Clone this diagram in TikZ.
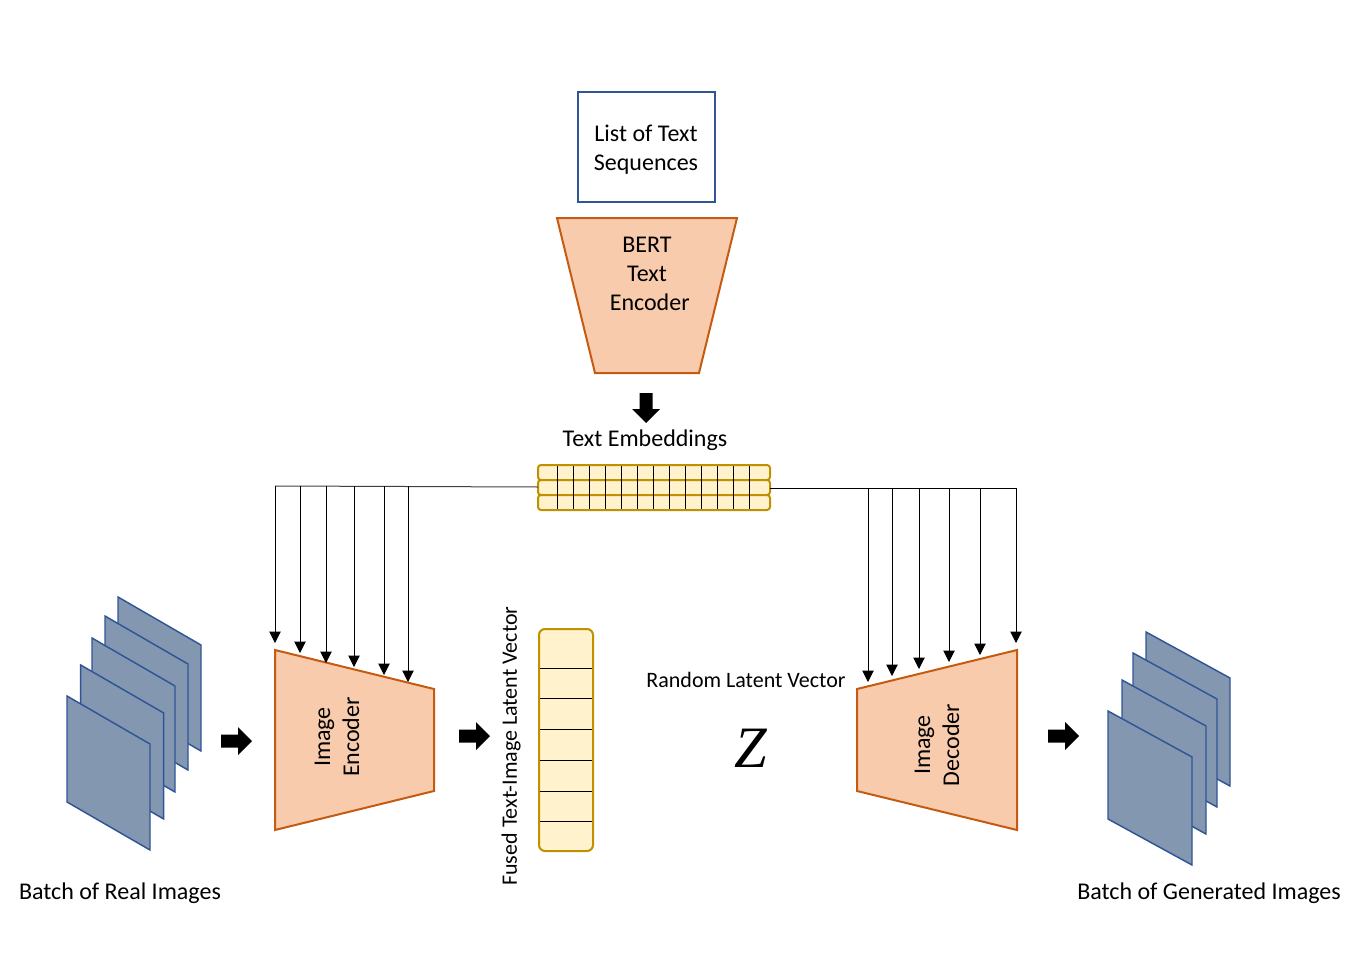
\documentclass[tikz,border=0pt]{standalone}
\usepackage{fontspec}
\setmainfont{Carlito}
\newfontfamily\zfont{Liberation Serif}
\usetikzlibrary{arrows.meta}
\definecolor{orfill}{HTML}{F8CBAD}
\definecolor{ordraw}{HTML}{C55A11}
\definecolor{pgfill}{HTML}{8497B0}
\definecolor{pgdraw}{HTML}{2F5597}
\definecolor{yfill}{HTML}{FFF2CC}
\definecolor{ydraw}{HTML}{BF9000}
\tikzset{
  lbl/.style={font=\fontsize{18}{21.75}\selectfont, inner sep=0pt, align=center},
  slbl/.style={font=\fontsize{16.5}{20}\selectfont, inner sep=0pt, align=center},
  trap/.style={fill=orfill, draw=ordraw, line width=1.5pt, line join=miter},
  pagebox/.style={fill=pgfill, draw=pgdraw, line width=1.1pt, line join=miter},
  embrow/.style={fill=yfill, draw=ydraw, line width=1.5pt, rounded corners=2.2pt},
  cell/.style={black, line width=0.6pt},
  feed/.style={black, line width=0.75pt, -{Triangle[length=8.5pt,width=8.5pt]}},
  rail/.style={black!75, line width=0.75pt},
  rarrow/.pic={\fill[black] (0,-6.5) -- (17,-6.5) -- (17,-14) -- (31,0) -- (17,14) -- (17,6.5) -- (0,6.5) -- cycle;},
  darrow/.pic={\fill[black] (-6.5,0) -- (-6.5,16) -- (-14,16) -- (0,30) -- (14,16) -- (6.5,16) -- (6.5,0) -- cycle;}
}
\begin{document}
\begin{tikzpicture}[x=0.75pt,y=-0.75pt]
\useasboundingbox (0,0) rectangle (1361,960);

% top box
\node[draw=pgdraw, line width=1.5pt, minimum width=102.75pt, minimum height=82.5pt] (list) at (646.5,147) {};
\node[lbl] (listtxt) at (646,149.5) {List of Text\\Sequences};

% BERT trapezoid
\draw[trap] (557,218) -- (737,218) -- (699,373) -- (595,373) -- cycle;
\node[lbl] (bert) at (647,274) {BERT\\Text\\\ Encoder};

% down arrow
\pic at (646,393) {darrow};
\node[lbl] (temb) at (645,440) {Text Embeddings};

% embeddings
\foreach \ya/\yb [count=\r] in {465/480,480/495,495/510}{
  \draw[embrow] (538,\ya) rectangle (770,\yb);
}
\foreach \xx in {557,573,...,749}{
  \draw[cell] (\xx,466) -- (\xx,509);
}
\coordinate (embL) at (538,487);
\coordinate (embR) at (770,488);

% encoder
\draw[trap] (275,650) -- (434,689) -- (434,791) -- (275,830) -- cycle;
\node[lbl, rotate=90] (enc) at (337,737) {Image\\Encoder};

% decoder
\draw[trap] (857,689) -- (1017,650) -- (1017,830) -- (857,791) -- cycle;
\node[lbl, rotate=90] (dec) at (937,745) {Image\\Decoder};

% rails
\coordinate (encrail) at (275,486);
\draw[rail] (embL) -- (encrail);
\coordinate (decrail) at (1016,488);
\draw[black, line width=0.75pt] (embR) -- (decrail);

% encoder feed arrows
\foreach \xx/\ye [count=\i] in {275/643,300/653,326/663,354/667,384/675,408/682}{
  \coordinate (es\i) at (\xx,486);
  \coordinate (ee\i) at (\xx,\ye);
  \draw[feed] (es\i) -- (ee\i);
}
% decoder feed arrows
\foreach \xx/\ye [count=\i] in {868/682,892/676,919/669,949/662,980/655,1016/643}{
  \coordinate (ds\i) at (\xx,488);
  \coordinate (de\i) at (\xx,\ye);
  \draw[feed] (ds\i) -- (de\i);
}

% left stack
\foreach \px/\py in {118/597,105/616,92/638,80.7/665,67/696}{
  \draw[pagebox] (\px,\py) -- ++(83,48) -- ++(0,106) -- ++(-83,-48) -- cycle;
}
\node[lbl] (real) at (120,893) {Batch of Real Images};

% right stack
\foreach \px/\py in {1146/632,1133/653,1122/680,1108/711}{
  \draw[pagebox] (\px,\py) -- ++(84,46) -- ++(0,108) -- ++(-84,-46) -- cycle;
}
\node[lbl] (gen) at (1209,893) {Batch of Generated Images};

% block arrows
\pic at (221,741) {rarrow};
\pic at (459,736) {rarrow};
\pic at (1048,736) {rarrow};

% latent vector
\draw[fill=yfill, draw=ydraw, line width=1.5pt, rounded corners=4.5pt] (539,629) rectangle (593,851);
\foreach \yy in {668,698,729,760,791,821}{
  \draw[cell] (540,\yy) -- (592,\yy);
}
\node[slbl, rotate=90] (fused) at (511,746) {Fused Text-Image Latent Vector};

% random latent
\node[slbl] (rand) at (746,680) {Random Latent Vector};
\node[inner sep=0pt, font=\zfont\itshape\fontsize{44}{44}\selectfont] (z) at (751,748) {Z};
\end{tikzpicture}
\end{document}
